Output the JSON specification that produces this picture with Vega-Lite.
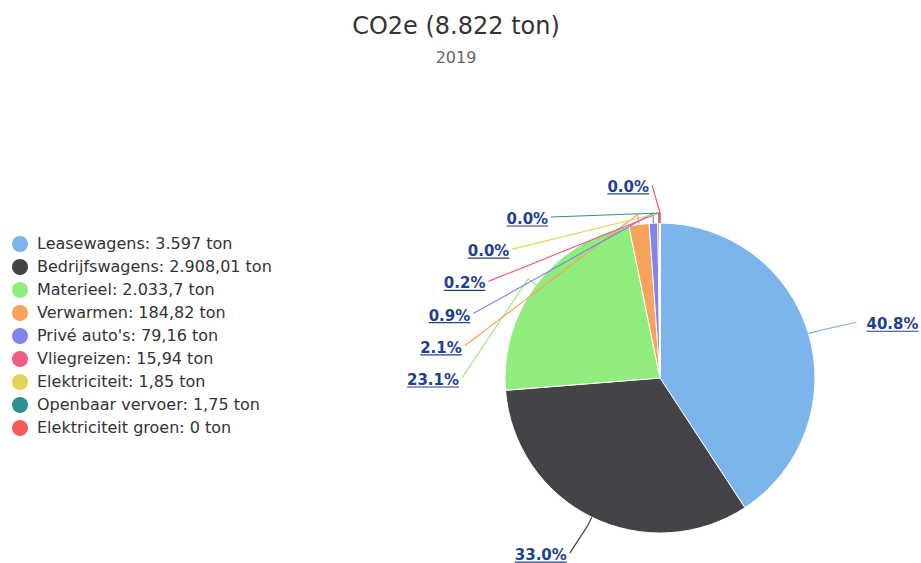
{
  "$schema": "https://vega.github.io/schema/vega-lite/v6.json",
  "width": 522,
  "height": 370,
  "autosize": {"type": "none"},
  "padding": {"left": 399, "top": 193, "right": 0, "bottom": 0},
  "background": "white",
  "config": {"view": {"stroke": null}, "font": "DejaVu Sans"},
  "title": {
    "text": "CO2e (8.822 ton)",
    "subtitle": "2019",
    "fontSize": 24,
    "fontWeight": "normal",
    "color": "#333333",
    "font": "DejaVu Sans",
    "subtitleFont": "DejaVu Sans",
    "subtitleFontSize": 16,
    "subtitleColor": "#666666",
    "subtitlePadding": 11,
    "anchor": "middle",
    "frame": "group",
    "dx": -204,
    "offset": 114
  },
  "data": {
    "values": [
      {"i": 0, "naam": "Leasewagens", "waarde": 3597, "legenda": "Leasewagens: 3.597 ton"},
      {"i": 1, "naam": "Bedrijfswagens", "waarde": 2908.01, "legenda": "Bedrijfswagens: 2.908,01 ton"},
      {"i": 2, "naam": "Materieel", "waarde": 2033.7, "legenda": "Materieel: 2.033,7 ton"},
      {"i": 3, "naam": "Verwarmen", "waarde": 184.82, "legenda": "Verwarmen: 184,82 ton"},
      {"i": 4, "naam": "Privé auto's", "waarde": 79.16, "legenda": "Privé auto's: 79,16 ton"},
      {"i": 5, "naam": "Vliegreizen", "waarde": 15.94, "legenda": "Vliegreizen: 15,94 ton"},
      {"i": 6, "naam": "Elektriciteit", "waarde": 1.85, "legenda": "Elektriciteit: 1,85 ton"},
      {"i": 7, "naam": "Openbaar vervoer", "waarde": 1.75, "legenda": "Openbaar vervoer: 1,75 ton"},
      {"i": 8, "naam": "Elektriciteit groen", "waarde": 0, "legenda": "Elektriciteit groen: 0 ton"}
    ]
  },
  "transform": [
    {"joinaggregate": [{"op": "sum", "field": "waarde", "as": "totaal"}]},
    {"window": [{"op": "sum", "field": "waarde", "as": "cum"}], "sort": [{"field": "i"}], "frame": [null, 0]},
    {"calculate": "(datum.cum - datum.waarde / 2) / datum.totaal * 2 * PI", "as": "mid"},
    {"calculate": "format(datum.waarde / datum.totaal, '.1%')", "as": "pct"},
    {"calculate": "datum.mid > 1.5 * PI", "as": "stapel"},
    {"window": [{"op": "row_number", "as": "k"}], "groupby": ["stapel"], "sort": [{"field": "i"}]},
    {"calculate": "width / 2", "as": "cx"},
    {"calculate": "height / 2", "as": "cy"},
    {"calculate": "datum.cx + 155 * sin(datum.mid)", "as": "ex"},
    {"calculate": "datum.cy - 155 * cos(datum.mid)", "as": "ey"},
    {"calculate": "datum.cx + 165 * sin(datum.mid)", "as": "bx"},
    {"calculate": "datum.cy - 165 * cos(datum.mid)", "as": "by"},
    {"calculate": "datum.stapel ? datum.cy - (datum.k - 1) * 32.2 : datum.cy - 195 * cos(datum.mid)", "as": "ly"},
    {"calculate": "datum.stapel ? datum.cx - sqrt(max(0, 190 * 190 - pow(datum.ly - datum.cy, 2))) - 8 : datum.cx + 205 * sin(datum.mid)", "as": "lx"},
    {"calculate": "datum.mid < PI", "as": "rechts"},
    {"calculate": "(length(datum.pct) - 2) * 10.44 + 20.7", "as": "tw"},
    {"calculate": "datum.rechts ? datum.lx + 10 : datum.lx - 3 - datum.tw", "as": "u1"},
    {"calculate": "datum.u1 + datum.tw", "as": "u2"},
    {"calculate": "datum.ly + 2", "as": "ty"},
    {"calculate": "datum.ly + 9", "as": "uy"}
  ],
  "layer": [
    {
      "mark": {"type": "arc", "radius": 155, "stroke": "white", "strokeWidth": 1},
      "encoding": {
        "theta": {"field": "waarde", "type": "quantitative", "stack": true},
        "order": {"field": "i", "type": "quantitative"},
        "color": {
          "field": "legenda",
          "type": "nominal",
          "sort": {"field": "i", "op": "min"},
          "scale": {"range": ["#7cb5ec", "#434348", "#90ed7d", "#f7a35c", "#8085e9", "#f15c80", "#e4d354", "#2b908f", "#f45b5b"]},
          "legend": {
            "orient": "none",
            "legendX": -387,
            "legendY": 43,
            "title": null,
            "symbolType": "circle",
            "symbolSize": 256,
            "symbolStrokeWidth": 0,
            "labelFontSize": 16,
            "labelColor": "#333333",
            "labelFont": "DejaVu Sans",
            "rowPadding": 7,
            "labelOffset": 9,
            "labelLimit": 400
          }
        }
      }
    },
    {
      "mark": {"type": "rule", "strokeWidth": 1.2},
      "encoding": {
        "x": {"field": "ex", "type": "quantitative", "scale": null},
        "y": {"field": "ey", "type": "quantitative", "scale": null},
        "x2": {"field": "bx"},
        "y2": {"field": "by"},
        "stroke": {
          "field": "legenda",
          "type": "nominal",
          "sort": {"field": "i", "op": "min"},
          "scale": {"range": ["#7cb5ec", "#434348", "#90ed7d", "#f7a35c", "#8085e9", "#f15c80", "#e4d354", "#2b908f", "#f45b5b"]},
          "legend": null
        }
      }
    },
    {
      "mark": {"type": "rule", "strokeWidth": 1.2},
      "encoding": {
        "x": {"field": "bx", "type": "quantitative", "scale": null},
        "y": {"field": "by", "type": "quantitative", "scale": null},
        "x2": {"field": "lx"},
        "y2": {"field": "ly"},
        "stroke": {
          "field": "legenda",
          "type": "nominal",
          "sort": {"field": "i", "op": "min"},
          "scale": {"range": ["#7cb5ec", "#434348", "#90ed7d", "#f7a35c", "#8085e9", "#f15c80", "#e4d354", "#2b908f", "#f45b5b"]},
          "legend": null
        }
      }
    },
    {
      "mark": {"type": "text", "align": "left", "baseline": "middle", "fontSize": 15, "fontWeight": "bold", "fill": "#1f3f8f"},
      "encoding": {
        "x": {"field": "u1", "type": "quantitative", "scale": null},
        "y": {"field": "ty", "type": "quantitative", "scale": null},
        "text": {"field": "pct", "type": "nominal"}
      }
    },
    {
      "mark": {"type": "rule", "strokeWidth": 1.2, "stroke": "#1f3f8f"},
      "encoding": {
        "x": {"field": "u1", "type": "quantitative", "scale": null},
        "x2": {"field": "u2"},
        "y": {"field": "uy", "type": "quantitative", "scale": null}
      }
    }
  ]
}
